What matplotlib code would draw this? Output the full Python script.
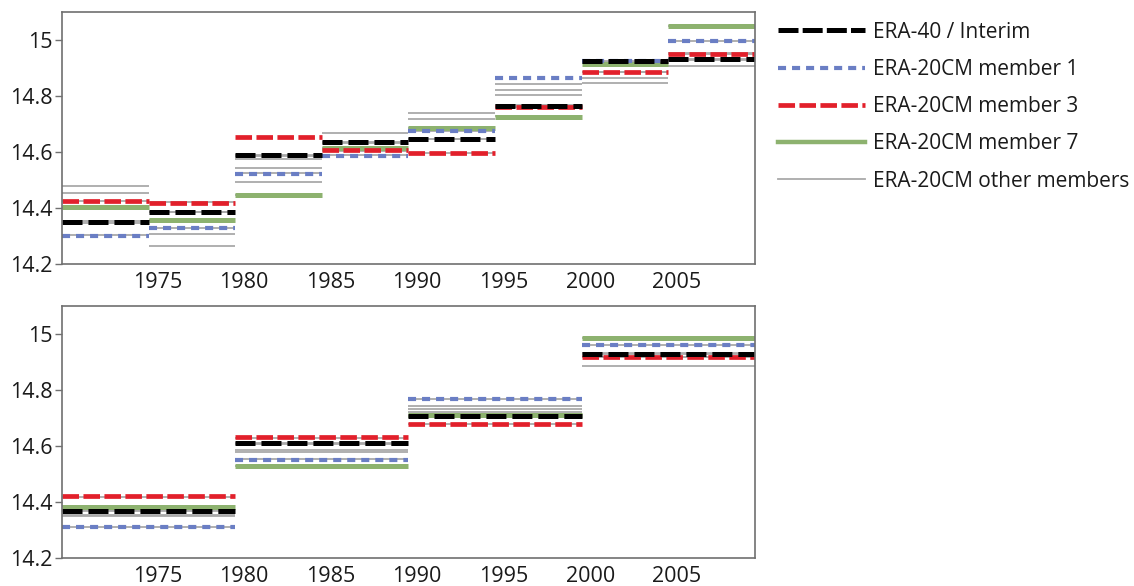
import matplotlib
matplotlib.use("Agg")
import matplotlib.pyplot as plt
from matplotlib.lines import Line2D

# ---- data -------------------------------------------------------------
# 5-year means (top panel)
periods_5yr = [1970, 1975, 1980, 1985, 1990, 1995, 2000, 2005]
era_5yr = [14.351, 14.387, 14.588, 14.634, 14.647, 14.765, 14.925, 14.931]
member1_5yr = [14.300, 14.329, 14.522, 14.587, 14.675, 14.866, 14.925, 14.998]
member3_5yr = [14.426, 14.419, 14.655, 14.606, 14.596, 14.759, 14.886, 14.951]
member7_5yr = [14.402, 14.356, 14.446, 14.615, 14.685, 14.726, 14.915, 15.051]
others_5yr = [
    [14.480, 14.306, 14.575, 14.667, 14.738, 14.844, 14.866, 14.907],
    [14.454, 14.265, 14.543, 14.636, 14.718, 14.823, 14.845, 14.932],
    [14.424, 14.420, 14.493, 14.632, 14.684, 14.803, 14.926, 14.929],
    [14.404, 14.386, 14.590, 14.608, 14.676, 14.767, 14.922, 14.952],
    [14.352, 14.384, 14.586, 14.604, 14.648, 14.762, 14.918, 14.949],
    [14.348, 14.357, 14.524, 14.589, 14.645, 14.760, 14.887, 14.997],
    [14.302, 14.330, 14.448, 14.614, 14.597, 14.727, 14.884, 15.050],
]

# 10-year means (bottom panel)
periods_10yr = [1970, 1980, 1990, 2000]
era_10yr = [14.369, 14.610, 14.706, 14.929]
member1_10yr = [14.312, 14.552, 14.767, 14.960]
member3_10yr = [14.421, 14.631, 14.677, 14.917]
member7_10yr = [14.384, 14.528, 14.709, 14.986]
others_10yr = [
    [14.352, 14.586, 14.744, 14.885],
    [14.356, 14.578, 14.732, 14.930],
    [14.371, 14.608, 14.720, 14.927],
    [14.367, 14.612, 14.708, 14.918],
    [14.386, 14.630, 14.705, 14.961],
    [14.420, 14.553, 14.678, 14.985],
    [14.313, 14.529, 14.766, 14.916],
]

year_ticks = [1975, 1980, 1985, 1990, 1995, 2000, 2005]
y_ticks = [14.2, 14.4, 14.6, 14.8, 15.0]
y_tick_labels = ["14.2", "14.4", "14.6", "14.8", "15"]

labels = ["ERA-40 / Interim", "ERA-20CM member 1", "ERA-20CM member 3",
          "ERA-20CM member 7", "ERA-20CM other members"]

# ---- styles -----------------------------------------------------------
plt.rcParams["font.family"] = ["Open Sans", "DejaVu Sans"]
plt.rcParams["lines.scale_dashes"] = False

GREY = "#a9a9a9"
GREEN = "#8db26f"
BLUE = "#6a7ec4"
RED = "#e2202b"
BLACK = "#000000"

style_m7 = dict(color=GREEN, lw=3.6, ls="-")
style_m1 = dict(color=BLUE, lw=3.0, ls=(0, (5.8, 4.3)))
style_m3 = dict(color=RED, lw=3.4, ls=(0, (11.9, 3.2)))
style_era = dict(color=BLACK, lw=3.6, ls=(0, (14.4, 4.3)))

SPINE = "#707070"
TEXT = "#1a1a1a"


def draw_panel(ax, starts, length, era, m1, m3, m7, others):
    x0 = [s - 0.5 for s in starts]
    x1 = [s + length - 0.5 for s in starts]
    for member in others:
        ax.hlines(member, x0, x1, colors=GREY, linewidth=1.3, linestyles="solid")
    for vals, st in ((m7, style_m7), (m1, style_m1), (m3, style_m3), (era, style_era)):
        for a, b, v in zip(x0, x1, vals):
            ax.plot([a, b], [v, v], color=st["color"], lw=st["lw"],
                    linestyle=st["ls"], solid_capstyle="butt", dash_capstyle="butt")
    ax.set_xlim(1969.5, 2009.5)
    ax.set_ylim(14.2, 15.1)
    ax.set_xticks(year_ticks)
    ax.set_xticklabels([str(y) for y in year_ticks])
    ax.set_yticks(y_ticks)
    ax.set_yticklabels(y_tick_labels)
    ax.tick_params(axis="x", length=0, pad=5.5, labelsize=15.5, labelcolor=TEXT)
    ax.tick_params(axis="y", length=5, width=1, color=SPINE, pad=2, direction="out",
                   labelsize=15.5, labelcolor=TEXT)
    for sp in ax.spines.values():
        sp.set_color(SPINE)
        sp.set_linewidth(1.2)


fig = plt.figure(figsize=(11.34, 5.86), dpi=100)
ax_top = fig.add_axes([0.0547, 0.5495, 0.611, 0.430])
ax_bot = fig.add_axes([0.0547, 0.0473, 0.611, 0.431])

draw_panel(ax_top, periods_5yr, 5, era_5yr, member1_5yr, member3_5yr, member7_5yr, others_5yr)
draw_panel(ax_bot, periods_10yr, 10, era_10yr, member1_10yr, member3_10yr, member7_10yr, others_10yr)

handles = [
    Line2D([], [], color=BLACK, lw=3.6, linestyle=(0, (14.4, 3.0)), dash_capstyle="butt"),
    Line2D([], [], color=BLUE, lw=3.0, linestyle=(0, (5.8, 4.3)), dash_capstyle="butt"),
    Line2D([], [], color=RED, lw=3.4, linestyle=(0, (11.9, 3.2)), dash_capstyle="butt"),
    Line2D([], [], color=GREEN, lw=3.2, linestyle="-"),
    Line2D([], [], color=GREY, lw=1.3, linestyle="-"),
]
fig.legend(handles, labels, loc="upper left", bbox_to_anchor=(0.686, 0.963),
           frameon=False, fontsize=15, handlelength=4.2, handletextpad=0.34,
           labelspacing=0.78, borderpad=0, borderaxespad=0, labelcolor=TEXT)

fig.savefig("out.png", dpi=100)
